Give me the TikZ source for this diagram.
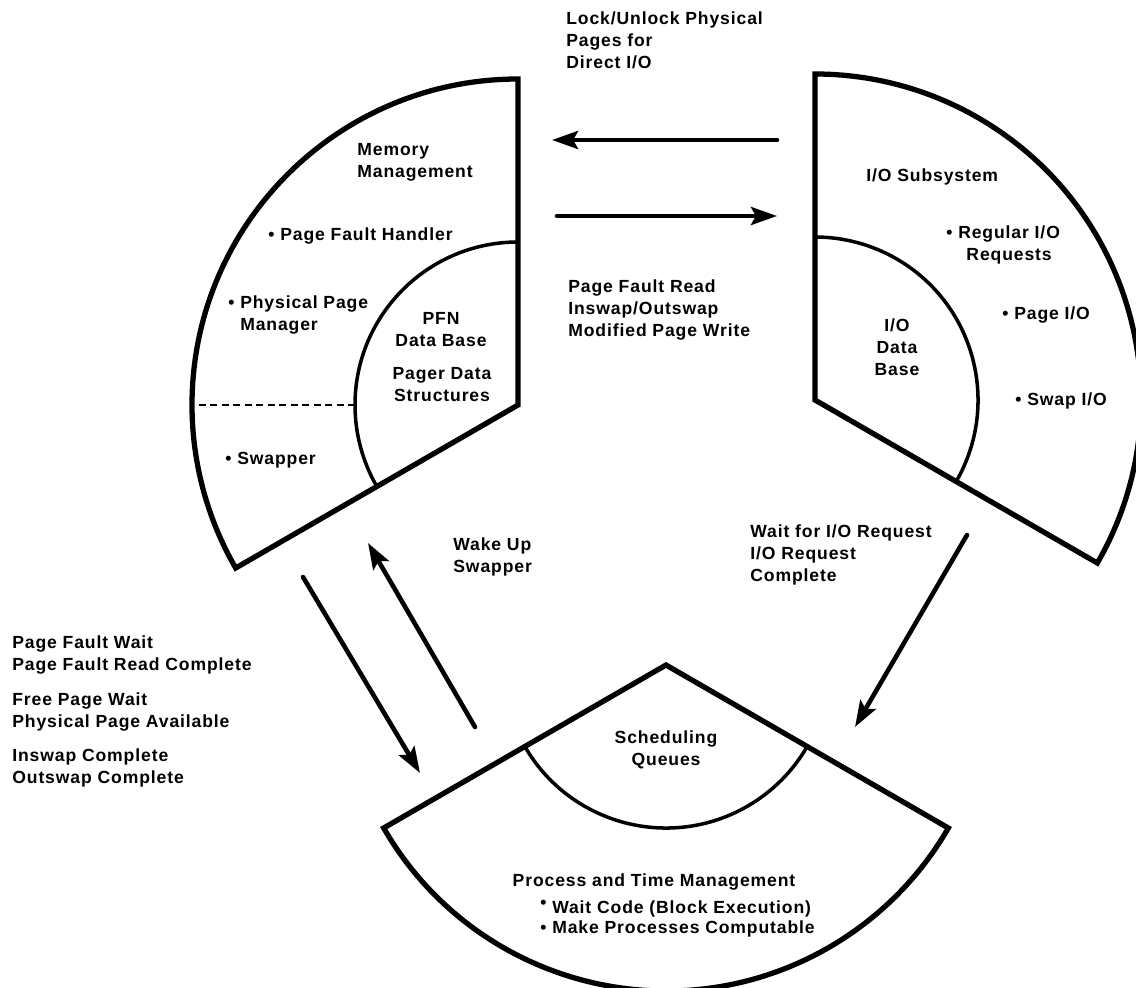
\documentclass[tikz,border=0pt]{standalone}
\usepackage{fontspec}
\setmainfont{Liberation Sans}[LetterSpace=5]
\usetikzlibrary{arrows.meta}

\begin{document}
\begin{tikzpicture}[scale=2,
  lbl/.style={font={\fontsize{10}{12.5}\selectfont\bfseries},inner sep=0pt,align=left},
  sector/.style={line width=3pt},
  inner/.style={line width=2pt},
  flow/.style={-{Stealth[length=5.2mm,width=3.6mm,inset=1mm]},line width=2.6pt,line cap=round}]
\useasboundingbox (0,0) rectangle (11.36,-9.87);
% apexes of the three sectors
\coordinate (mm) at (5.18,-4.05);
\coordinate (io) at (8.15,-4.00);
\coordinate (pt) at (6.66,-6.65);
% outlines
\draw[sector] (mm) -- ++(90:3.26) arc[start angle=90,end angle=210,radius=3.26] -- cycle;
\draw[sector] (io) -- ++(-30:3.26) arc[start angle=-30,end angle=90,radius=3.26] -- cycle;
\draw[sector] (pt) -- ++(210:3.26) arc[start angle=210,end angle=330,radius=3.26] -- cycle;
\draw[inner] (mm) ++(90:1.63) arc[start angle=90,end angle=210,radius=1.63];
\draw[inner] (io) ++(-30:1.63) arc[start angle=-30,end angle=90,radius=1.63];
\draw[inner] (pt) ++(210:1.63) arc[start angle=210,end angle=330,radius=1.63];
\draw[line width=1.6pt,dash pattern=on 1.4mm off 0.9mm] (mm) ++(180:1.63) -- ++(180:1.63);

% memory management
\node[lbl,anchor=west] (mem) at (3.57,-1.625) {Memory\\Management};
\node[lbl,anchor=west] (pfh) at (2.68,-2.36) {• Page Fault Handler};
\node[lbl,anchor=west] (ppm) at (2.28,-3.15) {• Physical Page\\\hphantom{• }Manager};
\node[lbl,align=center] (pfn) at (4.41,-3.295) {PFN\\Data Base};
\node[lbl,align=center] (pds) at (4.42,-3.845) {Pager Data\\Structures};
\node[lbl,anchor=west] (swp) at (2.25,-4.60) {• Swapper};

% i/o subsystem
\node[lbl,anchor=west] (iosub) at (8.66,-1.77) {I/O Subsystem};
\node[lbl,anchor=west,align=center] (reg) at (9.46,-2.45) {• Regular I/O\\\hphantom{• }Requests};
\node[lbl,anchor=west] (pio) at (10.02,-3.15) {• Page I/O};
\node[lbl,anchor=west] (sio) at (10.15,-4.01) {• Swap I/O};
\node[lbl,align=center] (iodb) at (8.97,-3.475) {I/O\\Data\\Base};

% process and time management
\node[lbl,align=center] (sq) at (6.66,-7.495) {Scheduling\\Queues};
\node[lbl,align=center] (ptm) at (6.54,-8.82) {Process and Time Management};
\node[lbl,anchor=west,font={\fontsize{10}{11}\selectfont\bfseries}] (blist) at (5.40,-9.185)
  {\raisebox{3pt}{•} Wait Code (Block Execution)\\• Make Processes Computable};

% traffic between the sectors
\node[lbl,anchor=west] (lock) at (5.66,-0.40) {Lock/Unlock Physical\\Pages for\\Direct I/O};
\node[lbl,anchor=west] (pfr) at (5.68,-3.10) {Page Fault Read\\Inswap/Outswap\\Modified Page Write};
\node[lbl,anchor=west] (wake) at (4.53,-5.565) {Wake Up\\Swapper};
\node[lbl,anchor=west] (wio) at (7.50,-5.55) {Wait for I/O Request\\I/O Request\\Complete};
\node[lbl,anchor=west] (waits) at (0.12,-7.115) {Page Fault Wait\\Page Fault Read Complete\\[7pt]Free Page Wait\\Physical Page Available\\[7pt]Inswap Complete\\Outswap Complete};

\coordinate (lk1) at (7.77,-1.40);
\coordinate (lk2) at (5.52,-1.40);
\coordinate (pf1) at (5.57,-2.16);
\coordinate (pf2) at (7.77,-2.16);
\coordinate (fw1) at (3.03,-5.77);
\coordinate (fw2) at (4.20,-7.73);
\coordinate (wk1) at (4.75,-7.27);
\coordinate (wk2) at (3.68,-5.43);
\coordinate (rq1) at (9.67,-5.35);
\coordinate (rq2) at (8.55,-7.27);
\draw[flow] (lk1) -- (lk2);
\draw[flow] (pf1) -- (pf2);
\draw[flow] (fw1) -- (fw2);
\draw[flow] (wk1) -- (wk2);
\draw[flow] (rq1) -- (rq2);
\end{tikzpicture}
\end{document}
